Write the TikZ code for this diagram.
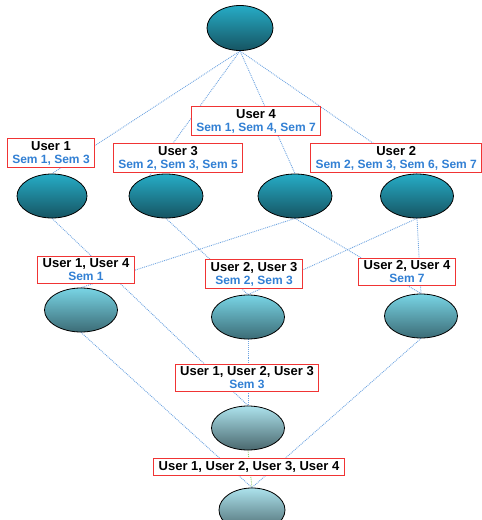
\documentclass[tikz,border=0pt]{standalone}
\usepackage{fontspec}
\setmainfont{Liberation Sans}
\usetikzlibrary{shapes.geometric, backgrounds}

\definecolor{linkblue}{RGB}{112,165,225}
\definecolor{linkgreen}{RGB}{150,205,120}
\definecolor{semblue}{RGB}{50,128,212}
\definecolor{boxred}{RGB}{240,52,52}
\definecolor{darktop}{RGB}{38,172,198}
\definecolor{darkbottom}{RGB}{22,84,98}
\definecolor{midtop}{RGB}{120,212,228}
\definecolor{midbottom}{RGB}{60,108,118}
\definecolor{palebottom}{RGB}{74,104,110}
\definecolor{paletop}{RGB}{172,226,236}

\tikzset{
	concept/.style={ellipse, draw=black, line width=0.8pt, minimum width=72pt, minimum height=44pt, inner sep=0pt},
	darkconcept/.style={concept, top color=darktop, bottom color=darkbottom},
	midconcept/.style={concept, top color=midtop, bottom color=midbottom},
	paleconcept/.style={concept, top color=paletop, bottom color=palebottom},
	extent/.style={draw=boxred, line width=1pt, fill=white, align=center, inner xsep=5pt, inner ysep=2.5pt, font=\fontsize{13}{14}\selectfont\bfseries},
	link/.style={draw=linkblue, densely dotted, line width=0.9pt}
}
\newcommand{\semlist}[1]{{\fontsize{12}{14}\selectfont\color{semblue}#1}}

\begin{document}
\begin{tikzpicture}[x=1pt, y=-1pt]
	\useasboundingbox (0,0) rectangle (482,520);
	% concepts
	\node [darkconcept, minimum width=66pt, minimum height=45pt] (top) at (240,28) {};
	\node [darkconcept, minimum width=70pt] (cOne) at (52,196) {};
	\node [darkconcept, minimum width=74pt] (cThree) at (166,196) {};
	\node [darkconcept, minimum width=74pt] (cFour) at (295,196) {};
	\node [darkconcept, minimum width=73pt] (cTwo) at (417,196) {};
	\node [midconcept, minimum width=73pt] (cOneFour) at (81,310) {};
	\node [midconcept, minimum width=73pt] (cTwoThree) at (248,317) {};
	\node [midconcept, minimum width=73pt] (cTwoFour) at (421,316) {};
	\node [paleconcept, minimum width=73pt] (cOneTwoThree) at (248,428) {};
	\node [paleconcept, minimum width=66pt] (cAll) at (252,510) {};
	% extents
	\node [extent] (lOne) at (51,153) {User 1\\[-1pt]\semlist{Sem 1,\ Sem 3}};
	\node [extent] (lThree) at (178,158) {User 3\\[-1pt]\semlist{Sem 2,\ Sem 3,\ Sem 5}};
	\node [extent] (lFour) at (256,121) {User 4\\[-1pt]\semlist{Sem 1,\ Sem 4,\ Sem 7}};
	\node [extent, anchor=west] (lTwo) at (310,158) {User 2\\[-1pt]\semlist{Sem 2,\ Sem 3,\ Sem 6,\ Sem 7}};
	\node [extent] (lOneFour) at (86,270) {User 1, User 4\\[-1pt]\semlist{Sem 1}};
	\node [extent] (lTwoThree) at (254,274) {User 2, User 3\\[-1pt]\semlist{Sem 2,\ Sem 3}};
	\node [extent] (lTwoFour) at (407,272) {User 2, User 4\\[-1pt]\semlist{Sem 7}};
	\node [extent] (lOneTwoThree) at (247,378) {User 1, User 2, User 3\\[-1pt]\semlist{Sem 3}};
	\node [extent] (lAll) at (249,467) {User 1, User 2, User 3, User 4};
	% links
	\begin{scope}[on background layer]
		\path [link] (top.south) -- (cOne.north);
		\path [link] (top.south) -- (cThree.130);
		\path [link] (top.south) -- (cFour.north);
		\path [link] (top.south) -- (cTwo.north);
		\path [link] (cOne.south) -- (cOneTwoThree.north);
		\path [link] (cThree.south) -- (cTwoThree.north);
		\path [link] (cFour.south) -- (cOneFour.north);
		\path [link] (cFour.south) -- (cTwoFour.north);
		\path [link] (cTwo.south) -- (cTwoThree.north);
		\path [link] (cTwo.south) -- (cTwoFour.north);
		\path [link] (cOneFour.south) -- (cAll.north);
		\path [link] (cTwoThree.south) -- (cOneTwoThree.north);
		\path [link] (cTwoFour.south) -- (cAll.north);
		\path [link, draw=linkgreen] (cOneTwoThree.south) -- (cAll.north);
	\end{scope}
\end{tikzpicture}
\end{document}
